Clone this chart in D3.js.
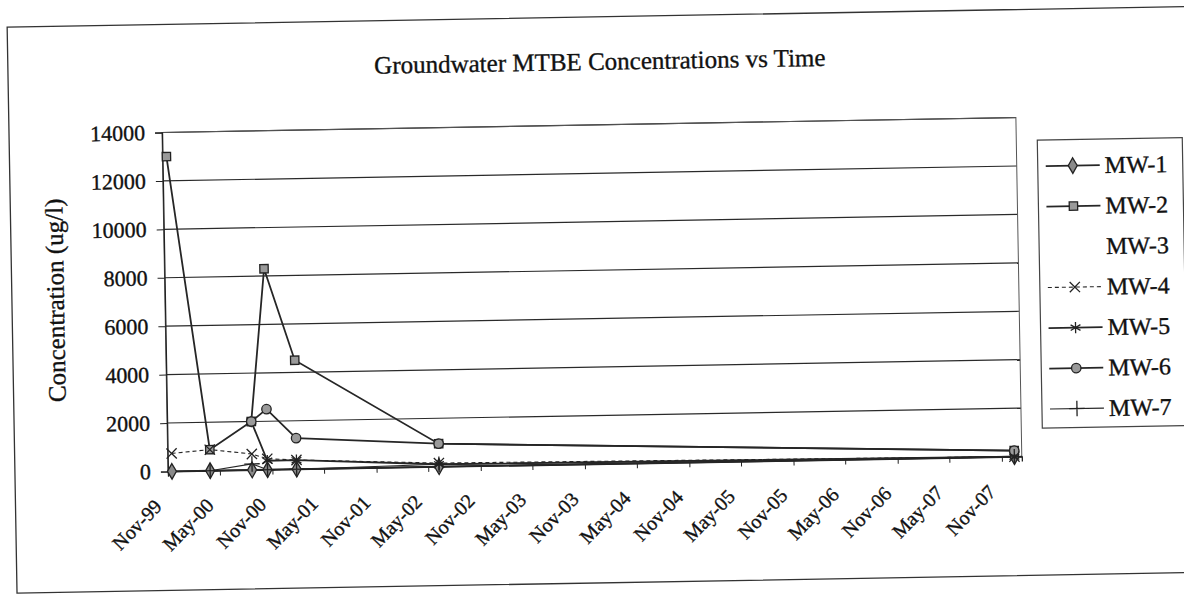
<!DOCTYPE html>
<html>
<head>
<meta charset="utf-8">
<script src="https://cdn.jsdelivr.net/npm/d3@7"></script>
<style>
  body { margin: 0; background: #fff; }
  text { font-family: "Liberation Serif", "DejaVu Serif", serif; fill: #111; stroke: #111; stroke-width: 0.35px; }
</style>
</head>
<body>
<div id="chart"></div>
<script>
// sample dates and well readings (ug/l)
var sampleDates = ["1999-11-15", "2000-03-28", "2000-08-22", "2000-10-15", "2001-01-25", "2002-06-08", "2007-12-15"];
var tickLabels = ["Nov-99", "May-00", "Nov-00", "May-01", "Nov-01", "May-02", "Nov-02", "May-03", "Nov-03",
                  "May-04", "Nov-04", "May-05", "Nov-05", "May-06", "Nov-06", "May-07", "Nov-07"];
var yTicks = [0, 2000, 4000, 6000, 8000, 10000, 12000, 14000];
var wells = ["MW-1", "MW-2", "MW-3", "MW-4", "MW-5", "MW-6", "MW-7"];

var mw1 = [0, 0, 0, 0, 0, 0, 0];
var mw2 = [13000, 870, 2000, 8300, 4500, 950, 250];
var mw3 = [null, null, null, null, null, null, null];
var mw4 = [740, 870, 660, 450, 380, 150, 0];
var mw5 = [null, null, 2000, 370, 370, 100, 0];
var mw6 = [null, null, 2000, 2500, 1280, 950, 250];
var mw7 = [null, 0, 250, 0, 0, 100, 0];

var wellValues = [mw1, mw2, mw3, mw4, mw5, mw6, mw7];

// look of each well (scan is all black ink)
var wellStyle = {
    "MW-1": { symbol: d3.symbolDiamond, size: 70, fill: "#8a8a8a", dash: null, width: 1.8 },
    "MW-2": { symbol: d3.symbolSquare, size: 70, fill: "#9a9a9a", dash: null, width: 1.8 },
    "MW-3": { symbol: null, size: 0, fill: "none", dash: null, width: 0 },
    "MW-4": { symbol: d3.symbolTimes || d3.symbolCross, size: 70, fill: "none", dash: "4,3", width: 1.1 },
    "MW-5": { symbol: d3.symbolAsterisk || d3.symbolCross, size: 90, fill: "none", dash: null, width: 1.8 },
    "MW-6": { symbol: d3.symbolCircle, size: 70, fill: "#9a9a9a", dash: null, width: 1.8 },
    "MW-7": { symbol: d3.symbolPlus || d3.symbolCross, size: 80, fill: "none", dash: null, width: 1.1 }
};

var svgWidth = 1184;
var svgHeight = 600;

var margin = { top: 125, right: 165, bottom: 136, left: 165 };
var width = svgWidth - margin.left - margin.right;
var height = svgHeight - margin.top - margin.bottom;

var svg = d3.select("#chart")
    .append("svg")
    .attr("width", svgWidth)
    .attr("height", svgHeight);

// the page was scanned a little crooked
var page = svg.append("g")
    .attr("transform", "rotate(-1, 592, 300)");

// chart area border
page.append("rect")
    .attr("x", 12)
    .attr("y", 17)
    .attr("width", 1200)
    .attr("height", 566)
    .attr("fill", "none")
    .attr("stroke", "#333")
    .attr("stroke-width", 1.3);

page.append("text")
    .attr("x", 604)
    .attr("y", 70)
    .attr("text-anchor", "middle")
    .attr("font-size", "25px")
    .text("Groundwater MTBE Concentrations vs Time");

var chartGroup = page.append("g")
    .attr("transform", `translate(${margin.left}, ${margin.top})`);

var parseDate = d3.timeParse("%Y-%m-%d");
var parseTick = d3.timeParse("%b-%y");
var dates = sampleDates.map(parseDate);
var tickDates = tickLabels.map(parseTick);

var xTimeScale = d3.scaleTime()
    .domain([new Date(1999, 10, 1), new Date(2008, 0, 10)])
    .range([0, width]);

var yLinearScale = d3.scaleLinear()
    .domain([0, 14000])
    .range([height, 0]);

// horizontal gridlines
chartGroup.selectAll(".grid")
    .data(yTicks)
    .enter()
    .append("line")
    .attr("x1", 0)
    .attr("x2", width)
    .attr("y1", d => yLinearScale(d))
    .attr("y2", d => yLinearScale(d))
    .attr("stroke", "#2a2a2a")
    .attr("stroke-width", 1.2);

// plot area frame
chartGroup.append("rect")
    .attr("width", width)
    .attr("height", height)
    .attr("fill", "none")
    .attr("stroke", "#555")
    .attr("stroke-width", 1);

var leftAxis = d3.axisLeft(yLinearScale)
    .tickValues(yTicks)
    .tickSize(7)
    .tickPadding(10)
    .tickFormat(d3.format("d"));

var yAxisGroup = chartGroup.append("g").call(leftAxis);
yAxisGroup.select(".domain").attr("stroke", "#222").attr("stroke-width", 1.3);
yAxisGroup.selectAll("line").attr("stroke", "#222");
yAxisGroup.selectAll("text")
    .attr("font-size", "22px");

var bottomAxis = d3.axisBottom(xTimeScale)
    .tickValues(tickDates)
    .tickSize(5)
    .tickFormat((d, i) => tickLabels[i]);

var xAxisGroup = chartGroup.append("g")
    .attr("transform", `translate(0, ${height})`)
    .call(bottomAxis);
xAxisGroup.select(".domain").attr("stroke", "#222").attr("stroke-width", 1.3);
xAxisGroup.selectAll("line").attr("stroke", "#222");
xAxisGroup.selectAll("text")
    .attr("font-size", "20px")
    .attr("text-anchor", "end")
    .attr("dy", null)
    .attr("y", 0)
    .attr("transform", "translate(-6, 36) rotate(-45)");

// y axis title
page.append("text")
    .attr("transform", "translate(64, 291) rotate(-90)")
    .attr("text-anchor", "middle")
    .attr("font-size", "25px")
    .text("Concentration (ug/l)");

// series
var lineGen = d3.line()
    .defined(d => d.v != null)
    .x(d => xTimeScale(d.date))
    .y(d => yLinearScale(d.v));

var seriesData = wells.map(function (name, i) {
    return {
        name: name,
        points: dates.map((dt, j) => ({ date: dt, v: wellValues[i][j] }))
    };
});

seriesData.forEach(function (s) {
    var st = wellStyle[s.name];
    if (!st.symbol) return;
    chartGroup.append("path")
        .datum(s.points)
        .attr("d", lineGen)
        .attr("fill", "none")
        .attr("stroke", "#262626")
        .attr("stroke-width", st.width)
        .attr("stroke-dasharray", st.dash);
});

seriesData.forEach(function (s) {
    var st = wellStyle[s.name];
    if (!st.symbol) return;
    chartGroup.selectAll(null)
        .data(s.points.filter(d => d.v != null))
        .enter()
        .append("path")
        .attr("transform", d => `translate(${xTimeScale(d.date)}, ${yLinearScale(d.v)})`)
        .attr("d", d3.symbol().type(st.symbol).size(st.size))
        .attr("fill", st.fill)
        .attr("stroke", "#222")
        .attr("stroke-width", 1.3);
});

// legend
var legend = page.append("g")
    .attr("transform", "translate(1040, 148)");

legend.append("rect")
    .attr("width", 145)
    .attr("height", 288)
    .attr("fill", "#fff")
    .attr("stroke", "#444")
    .attr("stroke-width", 1.2);

var legendItems = legend.selectAll(".item")
    .data(wells)
    .enter()
    .append("g")
    .attr("transform", (d, i) => `translate(0, ${26 + i * 40.5})`);

legendItems.each(function (name) {
    var st = wellStyle[name];
    var g = d3.select(this);
    if (st.symbol) {
        g.append("line")
            .attr("x1", 8).attr("x2", 62)
            .attr("y1", 0).attr("y2", 0)
            .attr("stroke", "#262626")
            .attr("stroke-width", st.width)
            .attr("stroke-dasharray", st.dash);
        g.append("path")
            .attr("transform", "translate(35, 0)")
            .attr("d", d3.symbol().type(st.symbol).size(st.size))
            .attr("fill", st.fill)
            .attr("stroke", "#222")
            .attr("stroke-width", 1.3);
    }
    g.append("text")
        .attr("x", 67)
        .attr("y", 8)
        .attr("font-size", "24px")
        .text(name);
});
</script>
</body>
</html>
